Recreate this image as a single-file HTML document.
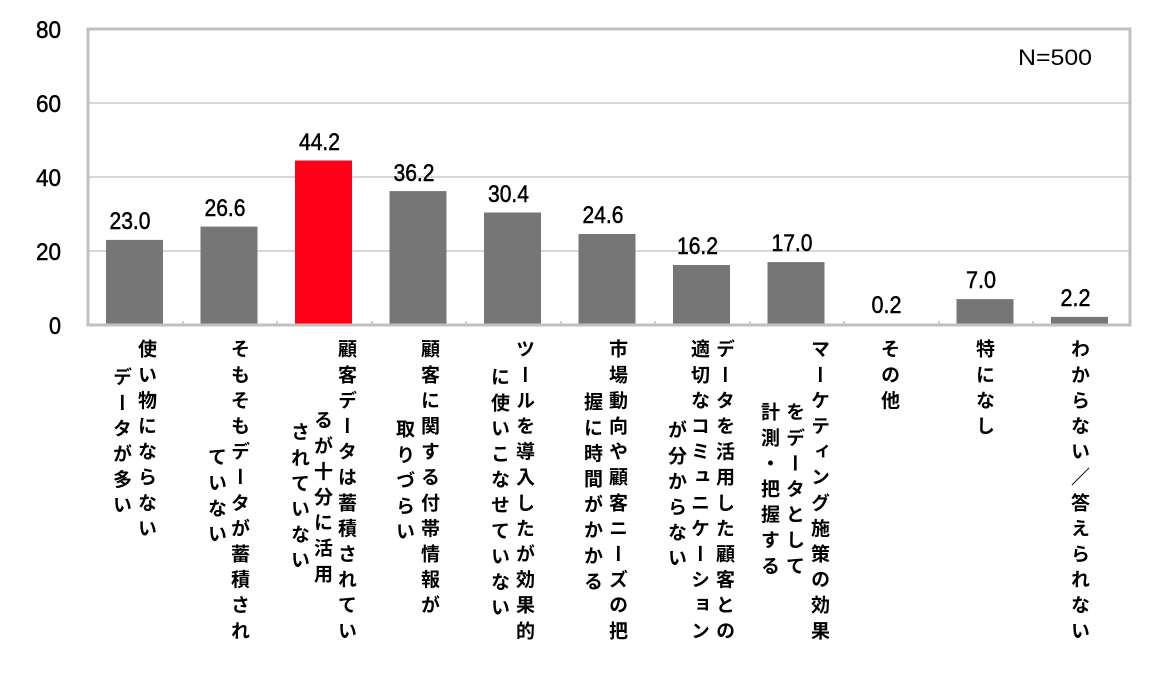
<!DOCTYPE html>
<html><head><meta charset="utf-8"><style>
body{margin:0;width:1161px;height:675px;background:#fff;position:relative;overflow:hidden;font-family:"Liberation Sans","Noto Sans CJK JP",sans-serif}
.v{position:absolute;writing-mode:vertical-rl;font-family:"Noto Sans CJK JP",sans-serif;font-weight:bold;font-size:19px;letter-spacing:6.6px;line-height:24px;width:24px;color:#000;white-space:nowrap}
</style></head><body>
<svg width="1161" height="675" style="position:absolute;left:0;top:0" font-family="Liberation Sans, sans-serif">
<g stroke="#c0c0c0" stroke-width="1.2">
<line x1="88" y1="103" x2="1130" y2="103"/>
<line x1="88" y1="177" x2="1130" y2="177"/>
<line x1="88" y1="251" x2="1130" y2="251"/>
</g>
<g fill="#767676">
<rect x="106" y="239.9" width="57" height="85.1"/>
<rect x="200.5" y="226.6" width="57" height="98.4"/>
<rect x="295" y="160.5" width="57" height="164.5" fill="#ff0019"/>
<rect x="389.5" y="191.1" width="57" height="133.9"/>
<rect x="484" y="212.5" width="57" height="112.5"/>
<rect x="578.5" y="234" width="57" height="91"/>
<rect x="673" y="265" width="57" height="60"/>
<rect x="767.5" y="262.1" width="57" height="62.9"/>
<rect x="862" y="324.3" width="57" height="0.7"/>
<rect x="956.5" y="299.1" width="57" height="25.9"/>
<rect x="1051" y="316.9" width="57" height="8.1"/>
</g>
<rect x="88" y="29" width="1042" height="296" fill="none" stroke="#c0c0c0" stroke-width="3"/>
<g stroke="#c0c0c0" stroke-width="1.5">
<line x1="183" y1="325" x2="183" y2="321"/><line x1="277" y1="325" x2="277" y2="321"/><line x1="372" y1="325" x2="372" y2="321"/><line x1="466" y1="325" x2="466" y2="321"/><line x1="561" y1="325" x2="561" y2="321"/><line x1="655" y1="325" x2="655" y2="321"/><line x1="750" y1="325" x2="750" y2="321"/><line x1="844" y1="325" x2="844" y2="321"/><line x1="939" y1="325" x2="939" y2="321"/><line x1="1033" y1="325" x2="1033" y2="321"/>
</g>
<g font-size="24" fill="#000" stroke="#000" stroke-width="0.5" text-anchor="end">
<text x="61" y="38" textLength="25" lengthAdjust="spacingAndGlyphs">80</text><text x="61" y="112" textLength="25" lengthAdjust="spacingAndGlyphs">60</text><text x="61" y="186" textLength="25" lengthAdjust="spacingAndGlyphs">40</text><text x="61" y="260" textLength="25" lengthAdjust="spacingAndGlyphs">20</text><text x="61" y="334" textLength="12" lengthAdjust="spacingAndGlyphs">0</text>
</g>
<g font-size="24" fill="#000" stroke="#000" stroke-width="0.5" text-anchor="middle">
<text x="130" y="229" textLength="41" lengthAdjust="spacingAndGlyphs">23.0</text>
<text x="225" y="216" textLength="41" lengthAdjust="spacingAndGlyphs">26.6</text>
<text x="319.5" y="150" textLength="41" lengthAdjust="spacingAndGlyphs">44.2</text>
<text x="414" y="181" textLength="41" lengthAdjust="spacingAndGlyphs">36.2</text>
<text x="508.5" y="202" textLength="41" lengthAdjust="spacingAndGlyphs">30.4</text>
<text x="603" y="223" textLength="41" lengthAdjust="spacingAndGlyphs">24.6</text>
<text x="697.5" y="254" textLength="41" lengthAdjust="spacingAndGlyphs">16.2</text>
<text x="792" y="251" textLength="41" lengthAdjust="spacingAndGlyphs">17.0</text>
<text x="886.5" y="313" textLength="30" lengthAdjust="spacingAndGlyphs">0.2</text>
<text x="981" y="288" textLength="30" lengthAdjust="spacingAndGlyphs">7.0</text>
<text x="1075.5" y="306" textLength="30" lengthAdjust="spacingAndGlyphs">2.2</text>
</g>
<text x="1018" y="65" font-size="22" textLength="74" lengthAdjust="spacingAndGlyphs">N=500</text>
</svg>
<div class="v" style="left:135px;top:339px">使い物にならない</div>
<div class="v" style="left:110px;top:367px">データが多い</div>
<div class="v" style="left:228px;top:339px">そもそもデータが蓄積され</div>
<div class="v" style="left:205px;top:447px">ていない</div>
<div class="v" style="left:335px;top:339px">顧客データは蓄積されてい</div>
<div class="v" style="left:311px;top:410px">るが十分に活用</div>
<div class="v" style="left:288px;top:422px">されていない</div>
<div class="v" style="left:418px;top:339px">顧客に関する付帯情報が</div>
<div class="v" style="left:393px;top:419px">取りづらい</div>
<div class="v" style="left:513px;top:339px">ツールを導入したが効果的</div>
<div class="v" style="left:488px;top:367px">に使いこなせていない</div>
<div class="v" style="left:606px;top:339px">市場動向や顧客ニーズの把</div>
<div class="v" style="left:581px;top:392px">握に時間がかかる</div>
<div class="v" style="left:713px;top:339px">データを活用した顧客との</div>
<div class="v" style="left:688px;top:339px">適切なコミュニケーション</div>
<div class="v" style="left:665px;top:420px">が分からない</div>
<div class="v" style="left:808px;top:339px">マーケティング施策の効果</div>
<div class="v" style="left:783px;top:402px">をデータとして</div>
<div class="v" style="left:758px;top:402px">計測・把握する</div>
<div class="v" style="left:878px;top:339px">その他</div>
<div class="v" style="left:973px;top:339px">特になし</div>
<div class="v" style="left:1068px;top:339px">わからない／答えられない</div>
</body></html>
